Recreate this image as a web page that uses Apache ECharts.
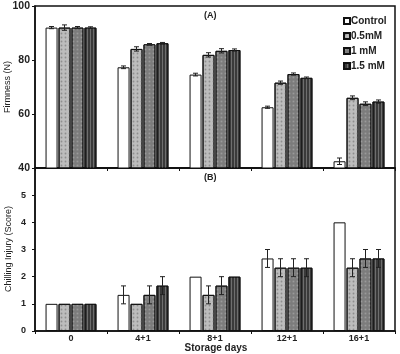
<!DOCTYPE html>
<html>
<head>
<meta charset="utf-8">
<script src="https://cdn.jsdelivr.net/npm/echarts@6/dist/echarts.min.js"></script>
<style>
  html, body { margin: 0; padding: 0; background: #fff; }
  #chart { width: 400px; height: 354px; }
</style>
</head>
<body>
<div id="chart"></div>
<script>
// storage days
var days = ['0', '4+1', '8+1', '12+1', '16+1'];
var treatments = ['Control', '0.5mM', '1 mM', '1.5 mM'];

// (A) firmness, N
var firmControl = [92, 77.3, 74.6, 62.5, 42.5];
var firm05 = [92, 84.1, 81.9, 71.6, 66.0];
var firm1 = [92, 85.8, 83.4, 74.8, 63.8];
var firm15 = [92, 86.2, 83.7, 73.4, 64.6];
var firmErrControl = [0.4, 0.5, 0.5, 0.4, 1.2];
var firmErr05 = [1.0, 0.8, 0.8, 0.6, 0.7];
var firmErr1 = [0.4, 0.3, 0.8, 0.4, 0.7];
var firmErr15 = [0.3, 0.3, 0.4, 0.3, 0.6];

// (B) chilling injury score
var ciControl = [1, 1.33, 2, 2.67, 4];
var ci05 = [1, 1, 1.33, 2.33, 2.33];
var ci1 = [1, 1.33, 1.67, 2.33, 2.67];
var ci15 = [1, 1.67, 2, 2.33, 2.67];
var ciErrControl = [0, 0.33, 0, 0.33, 0];
var ciErr05 = [0, 0, 0.33, 0.33, 0.33];
var ciErr1 = [0, 0.33, 0.33, 0.33, 0.33];
var ciErr15 = [0, 0.33, 0, 0.33, 0.33];

var firmTicks = [40, 60, 80, 100];
var ciTicks = [0, 1, 2, 3, 4, 5, 6];

var barW = 12;
var barSpace = 13;

var styles = [
	{ color: '#ffffff' },
	{ color: '#bdbdbd', decal: { symbol: 'circle', symbolSize: 0.6, color: '#8e8e8e', dashArrayX: [3, 1], dashArrayY: [3, 1] } },
	{ color: '#7c7c7c', decal: { symbol: 'rect', symbolSize: 0.6, color: '#9a9a9a', dashArrayX: [3, 1], dashArrayY: [3, 1] } },
	{ color: '#3a3a3a', decal: { symbol: 'rect', symbolSize: 1, color: '#6e6e6e', dashArrayX: [1, 2], dashArrayY: [10, 0] } }
];

function barSeries(name, data, idx, axis) {
	return {
		name: name,
		type: 'bar',
		xAxisIndex: axis,
		yAxisIndex: axis,
		barWidth: barW,
		barGap: '8%',
		data: data,
		itemStyle: {
			color: styles[idx].color,
			decal: styles[idx].decal,
			borderColor: '#111',
			borderWidth: 1
		},
		emphasis: { disabled: true }
	};
}

function errSeries(vals, errs, idx, axis) {
	var d = vals.map(function (v, i) { return [i, v - errs[i], v + errs[i]]; });
	return {
		type: 'custom',
		xAxisIndex: axis,
		yAxisIndex: axis,
		z: 10,
		silent: true,
		data: d,
		renderItem: function (params, api) {
			if (api.value(2) - api.value(1) < 0.01) return null;
			var lo = api.coord([api.value(0), api.value(1)]);
			var hi = api.coord([api.value(0), api.value(2)]);
			var x = lo[0] + (idx - 1.5) * barSpace;
			var st = { stroke: '#222', lineWidth: 1 };
			return {
				type: 'group',
				children: [
					{ type: 'line', shape: { x1: x, y1: lo[1], x2: x, y2: hi[1] }, style: st },
					{ type: 'line', shape: { x1: x - 2.5, y1: lo[1], x2: x + 2.5, y2: lo[1] }, style: st },
					{ type: 'line', shape: { x1: x - 2.5, y1: hi[1], x2: x + 2.5, y2: hi[1] }, style: st }
				]
			};
		}
	};
}

var chart = echarts.init(document.getElementById('chart'));
var font = 'Liberation Sans, Arial, sans-serif';

// axis titles as plain text
function label(txt, x, y, rot, f) {
	return {
		type: 'text', x: x, y: y, rotation: rot,
		style: { text: txt, font: f, fill: '#222', align: 'center', verticalAlign: 'middle' }
	};
}

var option = {
	animation: false,
	textStyle: { fontFamily: font },
	grid: [
		{ left: 35, top: 6, right: 5, height: 162, show: true, borderColor: '#111', borderWidth: 1.5, outerBoundsMode: 'none', containLabel: false },
		{ left: 35, top: 168, right: 5, height: 163, show: true, borderColor: '#111', borderWidth: 1.5, outerBoundsMode: 'none', containLabel: false }
	],
	legend: {
		data: treatments,
		orient: 'vertical',
		left: 338,
		top: 11,
		itemWidth: 6,
		itemHeight: 6,
		itemGap: 5,
		icon: 'rect',
		textStyle: { fontSize: 10, fontWeight: 'bold', color: '#222', padding: [0, 0, 0, -4] }
	},
	graphic: [
		{ type: 'text', left: 204, top: 11, style: { text: '(A)', font: 'bold 9px ' + font, fill: '#222' } },
		{ type: 'text', left: 204, top: 173, style: { text: '(B)', font: 'bold 9px ' + font, fill: '#222' } },
		label('Firmness (N)', 8, 87, Math.PI / 2, '9px ' + font),
		label('Chilling Injury (Score)', 9, 249, Math.PI / 2, '9px ' + font),
		label('Storage days', 216, 348.5, 0, 'bold 10px ' + font)
	],
	xAxis: [
		{
			type: 'category', gridIndex: 0, data: days,
			axisLine: { lineStyle: { color: '#111', width: 1.5 } },
			axisTick: { show: true, length: 3, lineStyle: { color: '#111' } },
			axisLabel: { show: false }
		},
		{
			type: 'category', gridIndex: 1, data: days,
			axisLine: { lineStyle: { color: '#111', width: 1.5 } },
			axisTick: { show: true, length: 3, lineStyle: { color: '#111' } },
			axisLabel: { fontSize: 9, fontWeight: 'bold', color: '#222', margin: 3 }
		}
	],
	yAxis: [
		{
			type: 'value', gridIndex: 0, min: firmTicks[0], max: firmTicks[firmTicks.length - 1], interval: 20,
			axisLine: { show: true, lineStyle: { color: '#111', width: 1.5 } },
			axisTick: { show: true, length: 3, lineStyle: { color: '#111' } },
			axisLabel: { fontSize: 10.5, fontWeight: 'bold', color: '#222', margin: 5 },
			splitLine: { show: false }
		},
		{
			type: 'value', gridIndex: 1, min: ciTicks[0], max: ciTicks[ciTicks.length - 1], interval: 1,
			axisLine: { show: true, lineStyle: { color: '#111', width: 1.5 } },
			axisTick: { show: true, length: 3, lineStyle: { color: '#111' } },
			axisLabel: { fontSize: 9, fontWeight: 'bold', color: '#222', margin: 9, showMaxLabel: false },
			splitLine: { show: false }
		}
	],
	series: [
		barSeries(treatments[0], firmControl, 0, 0),
		barSeries(treatments[1], firm05, 1, 0),
		barSeries(treatments[2], firm1, 2, 0),
		barSeries(treatments[3], firm15, 3, 0),
		barSeries(treatments[0], ciControl, 0, 1),
		barSeries(treatments[1], ci05, 1, 1),
		barSeries(treatments[2], ci1, 2, 1),
		barSeries(treatments[3], ci15, 3, 1),
		errSeries(firmControl, firmErrControl, 0, 0),
		errSeries(firm05, firmErr05, 1, 0),
		errSeries(firm1, firmErr1, 2, 0),
		errSeries(firm15, firmErr15, 3, 0),
		errSeries(ciControl, ciErrControl, 0, 1),
		errSeries(ci05, ciErr05, 1, 1),
		errSeries(ci1, ciErr1, 2, 1),
		errSeries(ci15, ciErr15, 3, 1)
	]
};
chart.setOption(option);
</script>
</body>
</html>
